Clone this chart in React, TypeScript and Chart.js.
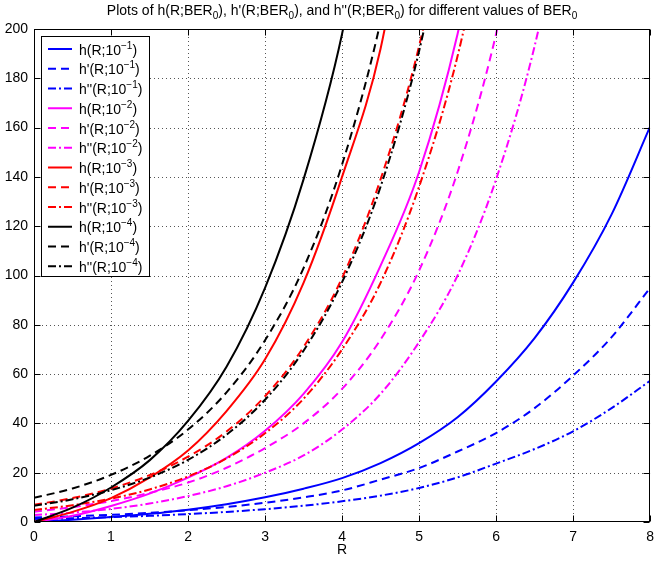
import React, { useEffect, useRef } from "react";
import { Chart, registerables } from "chart.js";

Chart.register(...registerables);

// ---------- data ----------
const R_VALUES = [0, 0.5, 1, 1.5, 2, 2.5, 3, 3.5, 4, 4.5, 5, 5.5, 6, 6.5, 7, 7.5, 8];
const X_TICKS = [0, 1, 2, 3, 4, 5, 6, 7, 8];
const Y_TICKS = [0, 20, 40, 60, 80, 100, 120, 140, 160, 180, 200];

// BER0 = 1e-1 (blue)
const BLUE_H = [0, 0.9, 2, 3.3, 5, 7.2, 10, 13.5, 17.8, 23.9, 32, 42.5, 57, 74.6, 97.1, 124.8, 160.4];
const BLUE_H1 = [1.8, 2.3, 2.9, 3.7, 4.8, 6.1, 7.8, 10, 12.8, 17.2, 21.9, 28.6, 36.1, 46.2, 59.4, 75, 95];
const BLUE_H2 = [1.2, 1.55, 2.0, 2.5, 3.2, 4.1, 5.2, 6.6, 8.4, 10.7, 13.8, 18.1, 23.7, 29.6, 36.8, 46.2, 57.3];
// BER0 = 1e-2 (magenta)
const MAGENTA_H = [0, 2.5, 6.5, 11.5, 18, 26, 37, 52, 73, 104, 142, 198, 276];
const MAGENTA_H1 = [4.2, 6, 8.5, 11.8, 16, 22, 30, 40, 54, 74, 102, 142, 198, 275];
const MAGENTA_H2 = [2.8, 3.8, 5.3, 7.5, 10.5, 14.5, 20, 27, 37.5, 52, 73, 100, 139, 193, 268];
// BER0 = 1e-3 (red)
const RED_H = [0, 4.1, 9.7, 18, 29, 45, 66, 97, 140, 192, 280];
const RED_H1 = [7, 9.7, 13.6, 19, 26.5, 36.7, 51, 71, 99, 139, 193, 268];
const RED_H2 = [4.9, 6.8, 9.5, 13.2, 18.5, 25.8, 36, 50, 70, 97, 136, 189, 263];
// BER0 = 1e-4 (black)
const BLACK_H = [0, 5.8, 14, 25, 41, 63, 95, 139, 198, 285];
const BLACK_H1 = [9.8, 13.6, 19.1, 26.8, 37.5, 52.6, 73.7, 103, 145, 203, 284];
const BLACK_H2 = [6.6, 9.2, 12.9, 18, 25.2, 35.4, 49.6, 69.5, 97.3, 136, 191, 268];

const SERIES_VALUES = [
  BLUE_H, BLUE_H1, BLUE_H2,
  MAGENTA_H, MAGENTA_H1, MAGENTA_H2,
  RED_H, RED_H1, RED_H2,
  BLACK_H, BLACK_H1, BLACK_H2,
];
const SERIES_LABELS = [
  "h(R;10⁻¹)", "h'(R;10⁻¹)", "h''(R;10⁻¹)",
  "h(R;10⁻²)", "h'(R;10⁻²)", "h''(R;10⁻²)",
  "h(R;10⁻³)", "h'(R;10⁻³)", "h''(R;10⁻³)",
  "h(R;10⁻⁴)", "h'(R;10⁻⁴)", "h''(R;10⁻⁴)",
];
const SERIES_COLORS = [
  "#0000ff", "#0000ff", "#0000ff",
  "#ff00ff", "#ff00ff", "#ff00ff",
  "#ff0000", "#ff0000", "#ff0000",
  "#000000", "#000000", "#000000",
];
const SOLID: number[] = [];
const DASHED = [8, 5];
const DASHDOT = [8, 3, 2, 3];
const SERIES_DASHES = [
  SOLID, DASHED, DASHDOT,
  SOLID, DASHED, DASHDOT,
  SOLID, DASHED, DASHDOT,
  SOLID, DASHED, DASHDOT,
];

const TITLE_PARTS: [string, boolean][] = [
  ["Plots of h(R;BER", false], ["0", true],
  ["), h'(R;BER", false], ["0", true],
  ["), and h''(R;BER", false], ["0", true],
  [") for different values of BER", false], ["0", true],
];
const X_LABEL = "R";

const FONT = "'Liberation Sans', Arial, Helvetica, sans-serif";
const FS = 14;

const SUP_MAP: Record<string, string> = {
  "⁻": "−", "¹": "1", "²": "2", "³": "3", "⁴": "4",
};

function splitLabel(label: string): [string, string, string] {
  const m = label.match(/^(.*10)([⁻¹²³⁴]+)(.*)$/);
  if (!m) return [label, "", ""];
  const sup = m[2].split("").map((c) => SUP_MAP[c] ?? c).join("");
  return [m[1], sup, m[3]];
}

const decorPlugin = {
  id: "decor",
  beforeDatasetsDraw(chart: any) {
    const { ctx, chartArea } = chart;
    const { left, right, top, bottom } = chartArea;
    const xs = chart.scales.x;
    const ys = chart.scales.y;
    ctx.save();
    ctx.strokeStyle = "#555555";
    ctx.lineWidth = 1;
    ctx.setLineDash([1, 3]);
    for (const t of X_TICKS) {
      const px = Math.round(xs.getPixelForValue(t)) + 0.5;
      if (px <= left + 1 || px >= right - 1) continue;
      ctx.beginPath();
      ctx.moveTo(px, top);
      ctx.lineTo(px, bottom);
      ctx.stroke();
    }
    for (const t of Y_TICKS) {
      const py = Math.round(ys.getPixelForValue(t)) + 0.5;
      if (py <= top + 1 || py >= bottom - 1) continue;
      ctx.beginPath();
      ctx.moveTo(left, py);
      ctx.lineTo(right, py);
      ctx.stroke();
    }
    ctx.restore();
  },
  afterDatasetsDraw(chart: any) {
    const { ctx, chartArea } = chart;
    const { left, right, top, bottom } = chartArea;
    const xs = chart.scales.x;
    const ys = chart.scales.y;
    ctx.save();
    ctx.setLineDash([]);
    ctx.strokeStyle = "#000000";
    ctx.lineWidth = 1;
    // frame
    const l = Math.round(left) + 0.5;
    const r = Math.round(right) - 0.5;
    const t0 = Math.round(top) + 0.5;
    const b = Math.round(bottom) - 0.5;
    ctx.strokeRect(l, t0, r - l, b - t0);
    // inward ticks on all sides
    const TL = 6;
    ctx.beginPath();
    for (const t of X_TICKS) {
      const px = Math.round(xs.getPixelForValue(t)) + 0.5;
      ctx.moveTo(px, b);
      ctx.lineTo(px, b - TL);
      ctx.moveTo(px, t0);
      ctx.lineTo(px, t0 + TL);
    }
    for (const t of Y_TICKS) {
      const py = Math.round(ys.getPixelForValue(t)) + 0.5;
      ctx.moveTo(l, py);
      ctx.lineTo(l + TL, py);
      ctx.moveTo(r, py);
      ctx.lineTo(r - TL, py);
    }
    ctx.stroke();

    // legend
    const lx = 41.5;
    const ly = 36.5;
    const lw = 108;
    const rowH = 19.75;
    const lh = rowH * SERIES_LABELS.length + 3;
    ctx.fillStyle = "#ffffff";
    ctx.fillRect(lx, ly, lw, lh);
    ctx.strokeStyle = "#000000";
    ctx.lineWidth = 1;
    ctx.strokeRect(lx, ly, lw, lh);
    chart.data.datasets.forEach((ds: any, i: number) => {
      const cy = ly + 12.5 + i * rowH;
      ctx.save();
      ctx.strokeStyle = ds.borderColor;
      ctx.lineWidth = 2;
      ctx.setLineDash(ds.borderDash || []);
      ctx.beginPath();
      ctx.moveTo(48, cy);
      ctx.lineTo(72, cy);
      ctx.stroke();
      ctx.restore();
      const [pre, sup, post] = splitLabel(ds.label);
      ctx.fillStyle = "#000000";
      ctx.textBaseline = "alphabetic";
      ctx.textAlign = "left";
      const base = cy + 5.5;
      let x = 79;
      ctx.font = `${FS}px ${FONT}`;
      ctx.fillText(pre, x, base);
      x += ctx.measureText(pre).width;
      if (sup) {
        ctx.font = `10px ${FONT}`;
        ctx.fillText(sup, x, base - 6);
        x += ctx.measureText(sup).width;
      }
      ctx.font = `${FS}px ${FONT}`;
      ctx.fillText(post, x, base);
    });

    // title
    const mainFont = `${FS}px ${FONT}`;
    const subFont = `10px ${FONT}`;
    let total = 0;
    for (const [txt, sub] of TITLE_PARTS) {
      ctx.font = sub ? subFont : mainFont;
      total += ctx.measureText(txt).width;
    }
    let tx = (left + right) / 2 - total / 2;
    const ty = 14.5;
    ctx.fillStyle = "#000000";
    for (const [txt, sub] of TITLE_PARTS) {
      ctx.font = sub ? subFont : mainFont;
      ctx.fillText(txt, tx, sub ? ty + 4 : ty);
      tx += ctx.measureText(txt).width;
    }
    ctx.restore();
  },
};

export default function App() {
  const canvasRef = useRef<HTMLCanvasElement | null>(null);

  useEffect(() => {
    document.body.style.margin = "0";
    const canvas = canvasRef.current;
    if (!canvas) return;
    const datasets = SERIES_VALUES.map((vals, i) => ({
      label: SERIES_LABELS[i],
      data: vals.map((v, j) => ({ x: R_VALUES[j], y: v })),
      borderColor: SERIES_COLORS[i],
      backgroundColor: SERIES_COLORS[i],
      borderWidth: 2,
      borderDash: SERIES_DASHES[i],
      pointRadius: 0,
      fill: false,
      cubicInterpolationMode: "monotone" as const,
      order: SERIES_VALUES.length - i,
    }));
    const chart = new Chart(canvas, {
      type: "line",
      data: { datasets },
      options: {
        responsive: false,
        animation: false,
        devicePixelRatio: 1,
        layout: {
          autoPadding: false,
          padding: { left: 0, right: 3, top: 29, bottom: 0 },
        },
        plugins: {
          legend: { display: false },
          title: { display: false },
          tooltip: { enabled: false },
        },
        scales: {
          x: {
            type: "linear",
            min: 0,
            max: 8,
            grid: { display: false, drawTicks: false },
            border: { display: false },
            ticks: {
              stepSize: 1,
              color: "#000000",
              font: { family: FONT, size: FS },
              padding: 7,
              maxRotation: 0,
              autoSkip: false,
            },
            title: {
              display: true,
              text: X_LABEL,
              color: "#000000",
              font: { family: FONT, size: FS },
              padding: { top: 0, bottom: 2 },
            },
            afterFit: (s: any) => {
              s.height = 39;
            },
          },
          y: {
            type: "linear",
            min: 0,
            max: 200,
            grid: { display: false, drawTicks: false },
            border: { display: false },
            ticks: {
              stepSize: 20,
              color: "#000000",
              font: { family: FONT, size: FS },
              padding: 6,
              autoSkip: false,
            },
            afterFit: (s: any) => {
              s.width = 34;
            },
          },
        },
      },
      plugins: [decorPlugin],
    });
    return () => chart.destroy();
  }, []);

  return (
    <div style={{ width: 661, height: 561 }}>
      <canvas ref={canvasRef} width={661} height={561} style={{ display: "block" }} />
    </div>
  );
}
